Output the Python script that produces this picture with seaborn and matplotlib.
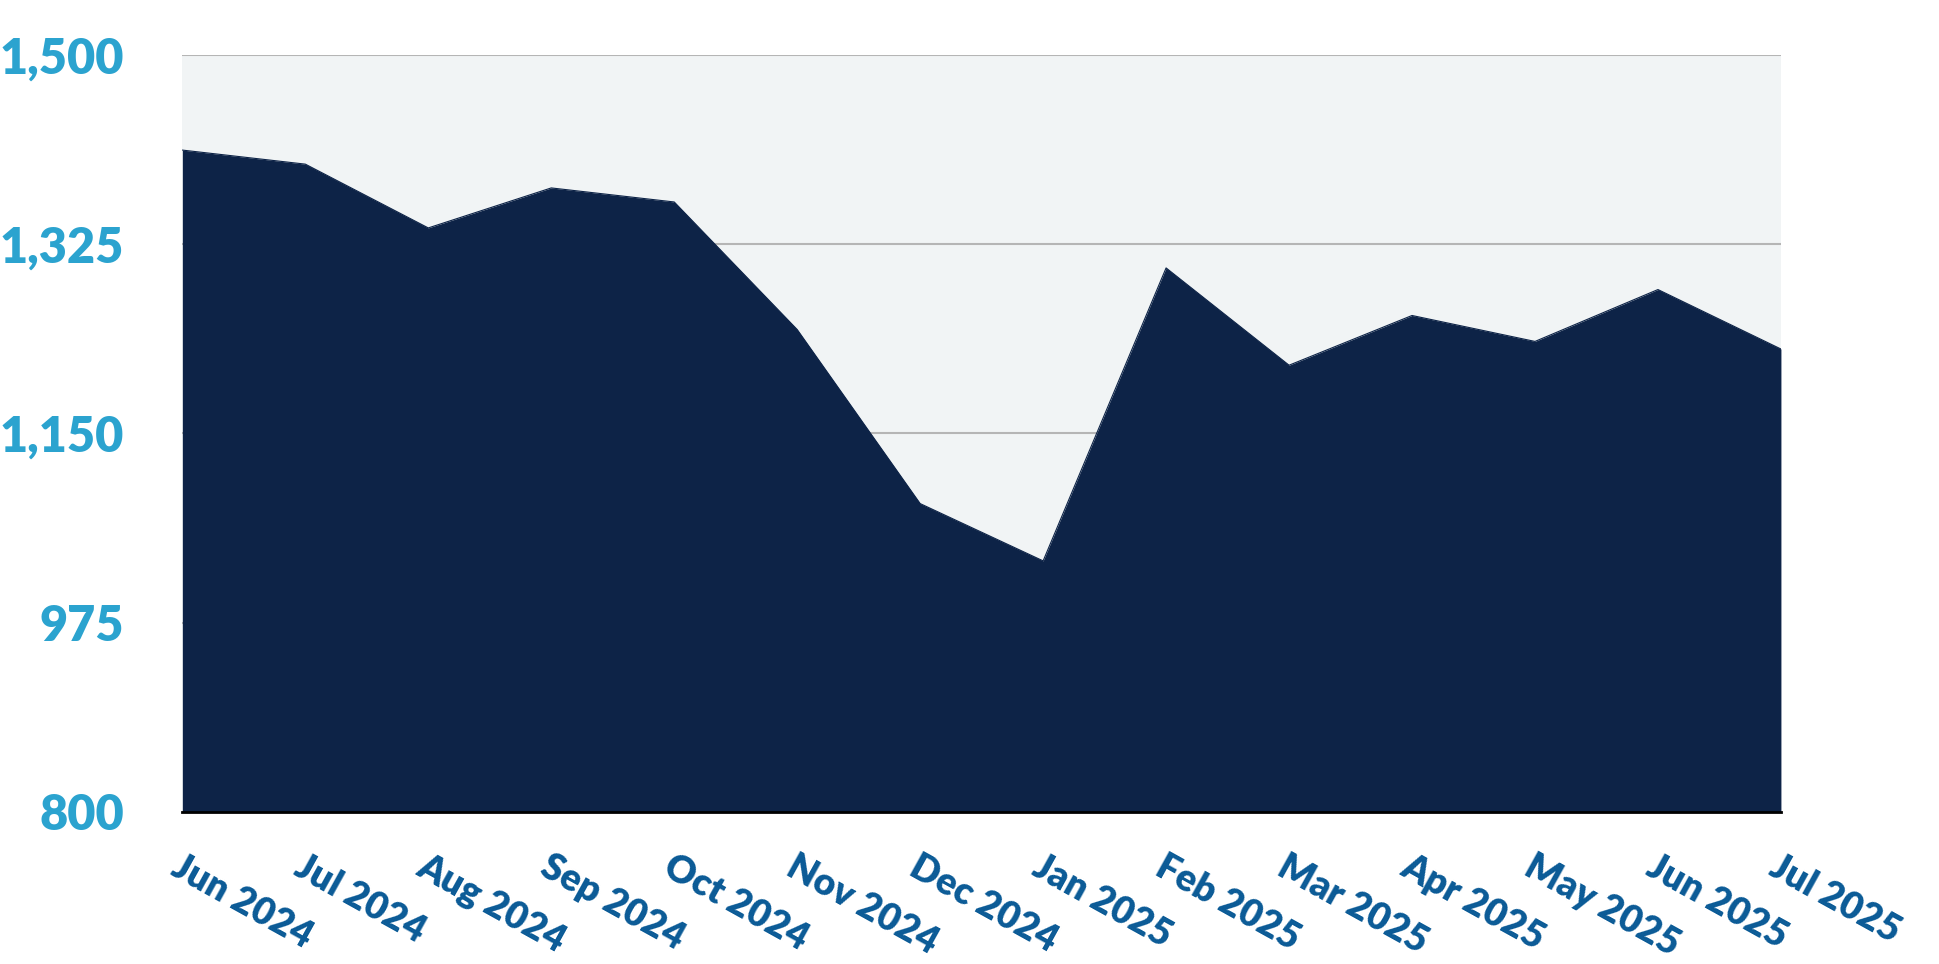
import numpy as np
import matplotlib
matplotlib.use("Agg")
import matplotlib.pyplot as plt
import seaborn as sns

months = ["Jun 2024", "Jul 2024", "Aug 2024", "Sep 2024", "Oct 2024", "Nov 2024",
          "Dec 2024", "Jan 2025", "Feb 2025", "Mar 2025", "Apr 2025", "May 2025",
          "Jun 2025", "Jul 2025"]
values = [1412, 1399, 1340, 1377, 1364, 1246, 1085, 1032, 1303, 1213, 1259, 1235, 1283, 1228]
y_ticks = [800, 975, 1150, 1325, 1500]

NAVY = "#0D2347"
BG = "#F1F4F5"
GRID = "#B5B5B5"
YCOL = "#2BA3CF"
XCOL = "#0A5A96"

sns.set_style("white")
plt.rcParams['font.family'] = ['Lato', 'DejaVu Sans']

fig = plt.figure(figsize=(19.4, 9.64), dpi=100)
ax = fig.add_axes([0.094, 0.158, 0.824, 0.785])
ax.set_facecolor(BG)

x = np.arange(len(months))
sns.lineplot(x=x, y=values, ax=ax, color=NAVY, linewidth=0.8, zorder=3)
ax.fill_between(x, values, y_ticks[0], color=NAVY, linewidth=0, zorder=3)

ax.set_xlim(0, len(months) - 1)
ax.set_ylim(y_ticks[0], y_ticks[-1])
ax.set_yticks(y_ticks)
ax.set_yticklabels([f"{v:,}" for v in y_ticks])
ax.set_xticks(x)
ax.set_xticklabels(months)

ax.yaxis.grid(True, color=GRID, linewidth=1.5, zorder=1)
ax.set_axisbelow(True)

for s in ["top", "right", "left"]:
    ax.spines[s].set_visible(False)
ax.spines["bottom"].set_color("black")
ax.spines["bottom"].set_linewidth(2)
ax.spines["bottom"].set_zorder(4)

ax.tick_params(axis="y", length=0, pad=42, labelsize=35, labelcolor=YCOL)
ax.tick_params(axis="x", length=0, pad=27, labelsize=27, labelcolor=XCOL)
for lab in ax.get_yticklabels():
    lab.set_fontweight("heavy")
for lab in ax.get_xticklabels():
    lab.set_fontweight("heavy")
    lab.set_rotation(-29)
    lab.set_ha("left")
    lab.set_va("top")
    lab.set_rotation_mode("anchor")

ax.set_xlabel("")
ax.set_ylabel("")

fig.savefig("out.png", dpi=100)
